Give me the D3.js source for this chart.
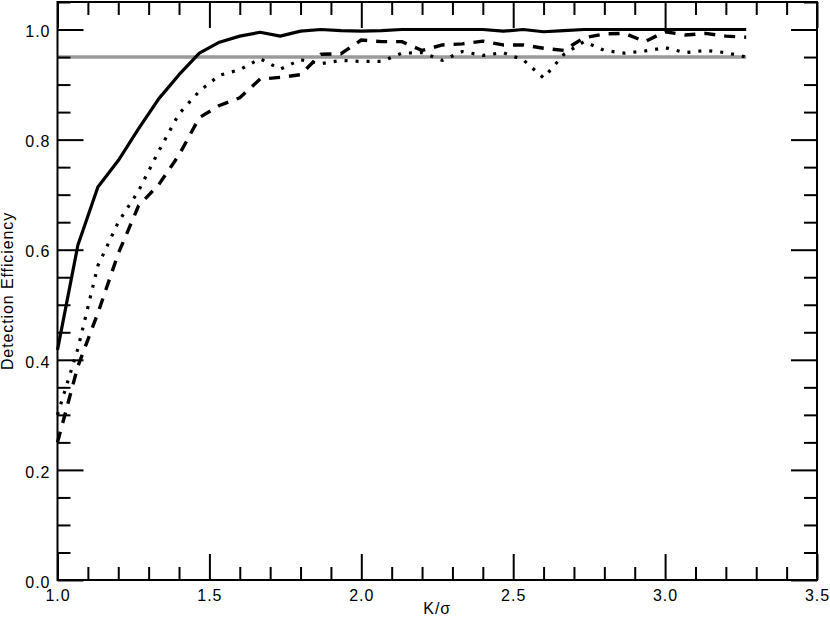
<!DOCTYPE html>
<html>
<head>
<meta charset="utf-8">
<script src="https://cdn.jsdelivr.net/npm/d3@7"></script>
<style>
  html, body { margin: 0; padding: 0; background: #fff; }
  svg { display: block; }
  text { font-family: "Liberation Sans", Arial, Helvetica, sans-serif; fill: #000; }
</style>
</head>
<body>
<svg id="chart" width="830" height="625"></svg>
<script>
// ---- Data ----
const kSigma = [1.000, 1.067, 1.133, 1.200, 1.267, 1.333, 1.400, 1.467, 1.533, 1.600,
                1.667, 1.733, 1.800, 1.867, 1.933, 2.000, 2.067, 2.133, 2.200, 2.267,
                2.333, 2.400, 2.467, 2.533, 2.600, 2.667, 2.733, 2.800, 2.867, 2.933,
                3.000, 3.067, 3.133, 3.200, 3.267];

const solidEff = [0.418, 0.608, 0.714, 0.762, 0.820, 0.874, 0.918, 0.957, 0.977, 0.988,
                  0.995, 0.988, 0.997, 1.000, 0.998, 0.997, 0.998, 1.000, 1.000, 1.000,
                  1.000, 1.000, 0.997, 1.000, 0.996, 0.998, 1.000, 1.000, 1.000, 1.000,
                  1.000, 1.000, 1.000, 1.000, 1.000];

const dottedEff = [0.300, 0.420, 0.571, 0.650, 0.707, 0.779, 0.847, 0.888, 0.917, 0.927,
                   0.947, 0.928, 0.945, 0.938, 0.944, 0.942, 0.942, 0.957, 0.958, 0.944,
                   0.960, 0.953, 0.958, 0.945, 0.912, 0.955, 0.978, 0.962, 0.957, 0.961,
                   0.967, 0.958, 0.962, 0.958, 0.950];

const dashedEff = [0.250, 0.388, 0.485, 0.593, 0.680, 0.718, 0.772, 0.840, 0.862, 0.876,
                   0.910, 0.913, 0.918, 0.955, 0.956, 0.981, 0.978, 0.978, 0.962, 0.972,
                   0.974, 0.979, 0.972, 0.972, 0.966, 0.962, 0.985, 0.992, 0.993, 0.978,
                   0.996, 0.990, 0.993, 0.988, 0.986];

const thresholdLevel = 0.95;
const thresholdRange = [1.0, 3.267];

const xMajorTicks = [1.0, 1.5, 2.0, 2.5, 3.0, 3.5];
const xTickLabels = ["1.0", "1.5", "2.0", "2.5", "3.0", "3.5"];
const yMajorTicks = [0.0, 0.2, 0.4, 0.6, 0.8, 1.0];
const yTickLabels = ["0.0", "0.2", "0.4", "0.6", "0.8", "1.0"];

const xTitle = "K/\u03c3";
const yTitle = "Detection Efficiency";

(function draw() {
  const svg = d3.select("#chart");
  const pL = 57.5, pR = 817, pT = 2, pB = 580;

  const x = d3.scaleLinear().domain([1.0, 3.5]).range([pL, pR]);
  const y = d3.scaleLinear().domain([0, 1.05]).range([pB, pT]);

  const xMinor = d3.range(10, 36).map(v => v / 10)
    .filter(v => !xMajorTicks.some(m => Math.abs(m - v) < 1e-6));
  const yMinor = d3.range(0, 22).map(v => v * 0.05)
    .filter(v => v <= 1.05 && !yMajorTicks.some(m => Math.abs(m - v) < 1e-6));

  // Threshold line
  svg.append("line")
    .attr("x1", x(thresholdRange[0])).attr("x2", x(thresholdRange[1]))
    .attr("y1", y(thresholdLevel)).attr("y2", y(thresholdLevel))
    .attr("stroke", "#9a9a9a").attr("stroke-width", 3.5);

  // Series
  const line = d3.line().x(d => x(d[0])).y(d => y(d[1]));
  function series(vals, dash, width) {
    svg.append("path")
      .datum(kSigma.map((k, i) => [k, vals[i]]))
      .attr("d", line)
      .attr("fill", "none")
      .attr("stroke", "#000")
      .attr("stroke-width", width)
      .attr("stroke-linejoin", "round")
      .attr("stroke-dasharray", dash);
  }
  series(solidEff, null, 3.2);
  series(dottedEff, "3,8", 3.2);
  series(dashedEff, "11,9", 3.4);

  // Frame
  svg.append("rect")
    .attr("x", pL).attr("y", pT)
    .attr("width", pR - pL).attr("height", pB - pT)
    .attr("fill", "none").attr("stroke", "#000").attr("stroke-width", 2);

  const majorLen = 26, minorLen = 13;
  function styleAxis(g) {
    g.select(".domain").remove();
    g.selectAll("line").attr("stroke", "#000").attr("stroke-width", 2);
  }
  // bottom
  const gxB = svg.append("g").attr("transform", `translate(0,${pB})`)
    .call(d3.axisBottom(x).tickValues(xMajorTicks).tickSize(-majorLen)
          .tickFormat((d, i) => xTickLabels[i]));
  styleAxis(gxB);
  gxB.selectAll("text").attr("font-size", 16).attr("letter-spacing", 1)
    .attr("y", 10).attr("dy", "0.71em");
  svg.append("g").attr("transform", `translate(0,${pB})`)
    .call(d3.axisBottom(x).tickValues(xMinor).tickSize(-minorLen).tickFormat(""))
    .call(styleAxis);
  // top
  svg.append("g").attr("transform", `translate(0,${pT})`)
    .call(d3.axisTop(x).tickValues(xMajorTicks).tickSize(-majorLen).tickFormat(""))
    .call(styleAxis);
  svg.append("g").attr("transform", `translate(0,${pT})`)
    .call(d3.axisTop(x).tickValues(xMinor).tickSize(-minorLen).tickFormat(""))
    .call(styleAxis);
  // left
  const gyL = svg.append("g").attr("transform", `translate(${pL},0)`)
    .call(d3.axisLeft(y).tickValues(yMajorTicks).tickSize(-majorLen)
          .tickFormat((d, i) => yTickLabels[i]));
  styleAxis(gyL);
  gyL.selectAll("text").attr("font-size", 16).attr("letter-spacing", 1)
    .attr("x", -7).attr("dy", "0.45em");
  svg.append("g").attr("transform", `translate(${pL},0)`)
    .call(d3.axisLeft(y).tickValues(yMinor).tickSize(-minorLen).tickFormat(""))
    .call(styleAxis);
  // right
  svg.append("g").attr("transform", `translate(${pR},0)`)
    .call(d3.axisRight(y).tickValues(yMajorTicks).tickSize(-majorLen).tickFormat(""))
    .call(styleAxis);
  svg.append("g").attr("transform", `translate(${pR},0)`)
    .call(d3.axisRight(y).tickValues(yMinor).tickSize(-minorLen).tickFormat(""))
    .call(styleAxis);

  // Titles
  svg.append("text")
    .attr("x", (pL + pR) / 2).attr("y", 614)
    .attr("text-anchor", "middle").attr("font-size", 16).attr("letter-spacing", 1)
    .text(xTitle);
  svg.append("text")
    .attr("transform", `translate(13,${(pT + pB) / 2}) rotate(-90)`)
    .attr("text-anchor", "middle").attr("font-size", 16).attr("letter-spacing", 0.9)
    .text(yTitle);
})();
</script>
</body>
</html>
